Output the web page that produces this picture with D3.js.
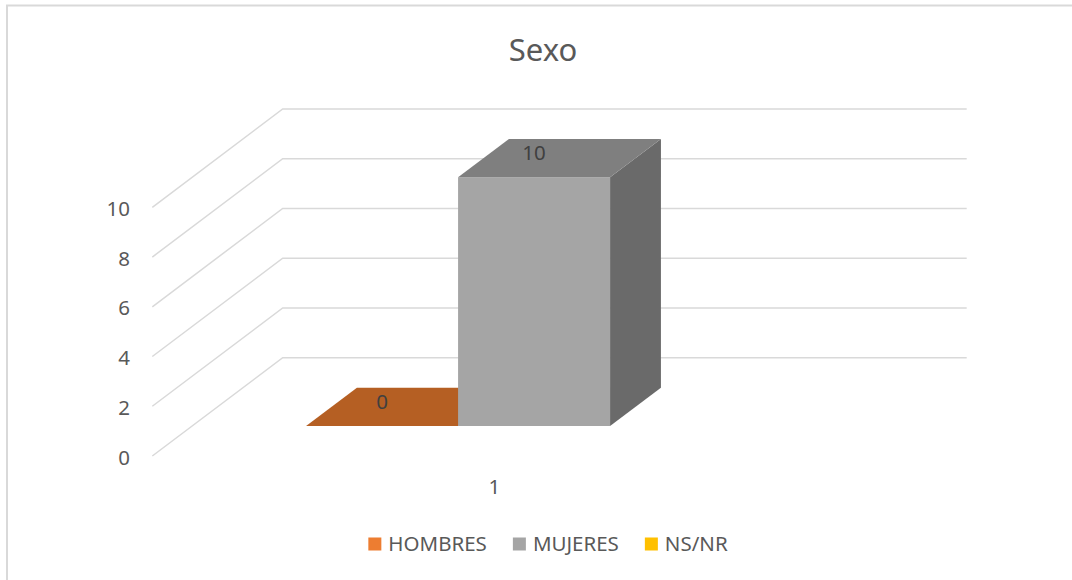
<!DOCTYPE html>
<html>
<head>
<meta charset="utf-8">
<script src="https://cdn.jsdelivr.net/npm/d3@7"></script>
<style>
  body { margin: 0; background: #fff; }
  text { font-family: "Noto Sans", "Open Sans", sans-serif; }
</style>
</head>
<body>
<div id="chart"></div>
<script>
// data
var categories = ["1"];
var seriesNames = ["HOMBRES", "MUJERES", "NS/NR"];
var seriesValues = [0, 10, null];
var seriesColors = ["#ED7D31", "#A5A5A5", "#FFC000"];
var yTicks = [0, 2, 4, 6, 8, 10];

var svgWidth = 1072;
var svgHeight = 580;

var svg = d3.select("#chart")
  .append("svg")
  .attr("width", svgWidth)
  .attr("height", svgHeight);

// chart frame (only left and top edges show in the picture)
svg.append("path")
  .attr("d", "M7,580 V5.5 H1072")
  .attr("fill", "none")
  .attr("stroke", "#D9D9D9")
  .attr("stroke-width", 2);

// title
svg.append("text")
  .attr("x", 543)
  .attr("y", 61)
  .attr("text-anchor", "middle")
  .style("font-size", "31px")
  .style("fill", "#595959")
  .text("Sexo");

// oblique 3d projection: front plane + depth offset
var depthX = 130.4, depthY = -98.3;
var x0 = d3.scaleBand().domain(categories).range([152.3, 836.3]);
var x1 = d3.scaleBand().domain(seriesNames)
  .range([0, x0.bandwidth()])
  .paddingInner(0)
  .paddingOuter(0.75);
var y = d3.scaleLinear().domain([0, 10]).range([456, 207.3]);
var depth = d3.scaleLinear().domain([0, 1]).range([0, 1]);
var f0 = depth(0.305), f1 = depth(0.695);

function P(x, v, f) {
  return [x + f * depthX, y(v) + f * depthY];
}
function poly(pts) {
  return "M" + pts.map(p => p.join(",")).join("L") + "Z";
}

// gridlines: side wall diagonal + back wall horizontal
var grid = svg.append("g");
yTicks.forEach(function(t) {
  var a = P(x0.range()[0], t, 0);
  var b = P(x0.range()[0], t, 1);
  var c = P(x0.range()[1], t, 1);
  grid.append("path")
    .attr("d", "M" + a + "L" + b + "L" + c)
    .attr("fill", "none")
    .attr("stroke", "#D9D9D9")
    .attr("stroke-width", 1.5);
});

// y labels
svg.append("g").selectAll("text")
  .data(yTicks)
  .enter().append("text")
  .attr("x", 130)
  .attr("y", d => y(d) + 1.5)
  .attr("dy", "0.35em")
  .attr("text-anchor", "end")
  .style("font-size", "20.5px")
  .style("fill", "#595959")
  .text(d => d);

// category label
svg.append("g").selectAll("text")
  .data(categories)
  .enter().append("text")
  .attr("x", d => x0(d) + x0.bandwidth() / 2)
  .attr("y", 494)
  .attr("text-anchor", "middle")
  .style("font-size", "20.5px")
  .style("fill", "#595959")
  .text(d => d);

// bars
var shades = {
  "HOMBRES": { front: "#ED7D31", top: "#B55F23", side: "#9E5220" },
  "MUJERES": { front: "#A5A5A5", top: "#7F7F7F", side: "#6A6A6A" },
  "NS/NR":   { front: "#FFC000", top: "#C29200", side: "#A67D00" }
};
var bars = svg.append("g");
var labels = svg.append("g");
categories.forEach(function(cat) {
  seriesNames.forEach(function(s, i) {
    var v = seriesValues[i];
    if (v === null) return;
    var xa = x0(cat) + x1(s);
    var xb = xa + x1.bandwidth();
    var c = shades[s];
    if (v > 0) {
      bars.append("path")
        .attr("d", poly([P(xb, 0, f0), P(xb, 0, f1), P(xb, v, f1), P(xb, v, f0)]))
        .attr("fill", c.side);
      bars.append("path")
        .attr("d", poly([P(xa, 0, f0), P(xb, 0, f0), P(xb, v, f0), P(xa, v, f0)]))
        .attr("fill", c.front);
    }
    bars.append("path")
      .attr("d", poly([P(xa, v, f0), P(xb, v, f0), P(xb, v, f1), P(xa, v, f1)]))
      .attr("fill", c.top);

    labels.append("text")
      .attr("x", (xa + xb) / 2 + f0 * depthX)
      .attr("y", y(v) + (f0 + f1) / 2 * depthY - 5)
      .attr("dy", "0.35em")
      .attr("text-anchor", "middle")
      .style("font-size", "20.5px")
      .style("fill", "#404040")
      .text(v);
  });
});

// legend
var legend = svg.append("g");
var items = legend.selectAll("g")
  .data(seriesNames)
  .enter().append("g");
items.append("rect")
  .attr("width", 13)
  .attr("height", 13)
  .attr("y", 537.5)
  .attr("fill", (d, i) => seriesColors[i]);
items.append("text")
  .attr("x", 20)
  .attr("y", 551)
  .style("font-size", "20.5px")
  .style("fill", "#595959")
  .text(d => d);

var gap = 26;
var xPos = 0, offsets = [];
items.each(function() {
  offsets.push(xPos);
  var w = d3.select(this).select("text").node().getComputedTextLength();
  xPos += 20 + w + gap;
});
var totalW = xPos - gap;
var startX = 548 - totalW / 2;
items.attr("transform", (d, i) => `translate(${startX + offsets[i]},0)`);
</script>
</body>
</html>
